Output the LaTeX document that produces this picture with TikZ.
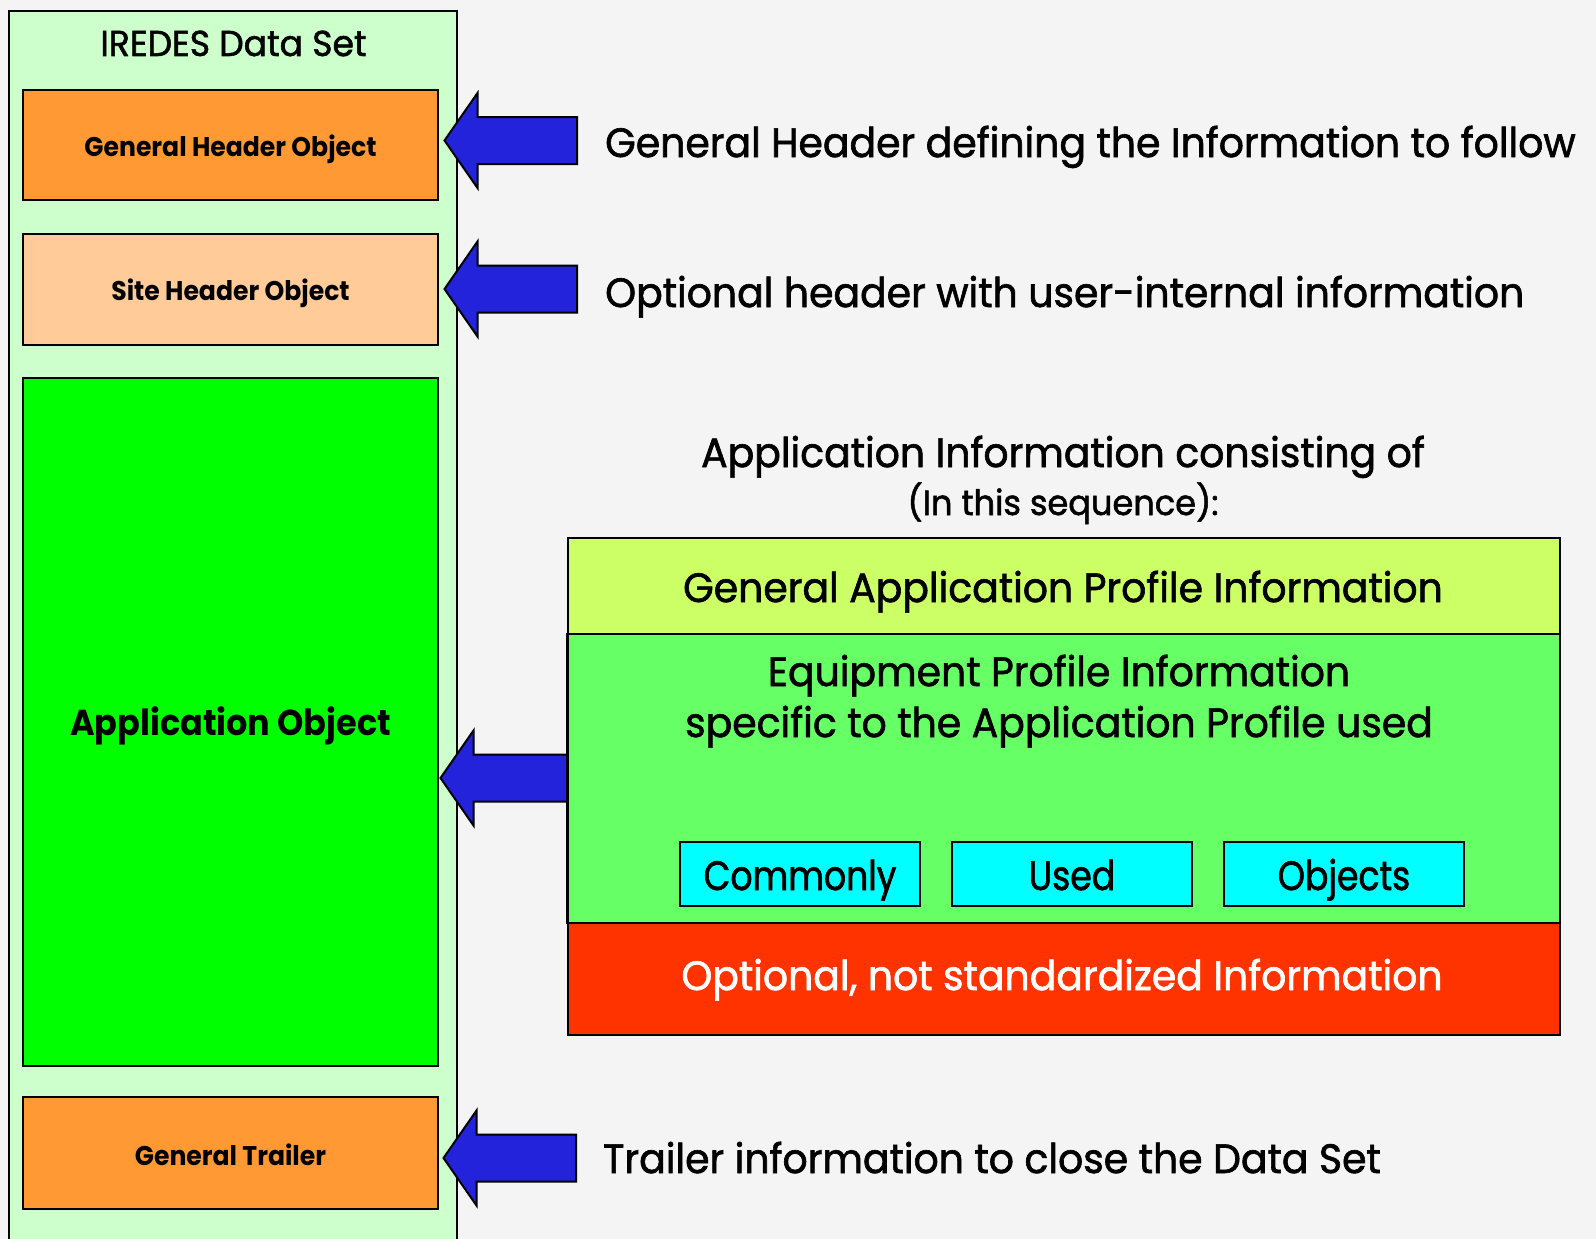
\documentclass[tikz,border=0pt]{standalone}
\usepackage{fontspec}
\setmainfont{Poppins}[FakeStretch=0.96,FakeBold=1.5]
\newfontfamily\boxfont{Poppins}[FakeStretch=0.93]
\newfontfamily\narrowfont{Poppins}[FakeStretch=0.845,FakeBold=1.5]
\usetikzlibrary{calc}

\definecolor{pagebg}{HTML}{F4F4F4}
\definecolor{setgreen}{HTML}{CCFFCC}
\definecolor{hdrorange}{HTML}{FF9933}
\definecolor{sitepeach}{HTML}{FFCC99}
\definecolor{appgreen}{HTML}{00FF00}
\definecolor{arrowblue}{HTML}{2323DB}
\definecolor{bandlime}{HTML}{CCFF66}
\definecolor{bandgreen}{HTML}{66FF66}
\definecolor{objcyan}{HTML}{00FFFF}
\definecolor{optred}{HTML}{FF3300}

% block arrow pointing left: #1 = tip, #2 = tail (x only)
\newcommand\blockarrow[2]{%
  \filldraw[blockarr] let \p1=(#1), \p2=(#2) in
    (\x1,\y1) -- (\x1+33pt,\y1+47.5pt) -- (\x1+33pt,\y1+23.5pt)
    -- (\x2,\y1+23.5pt) -- (\x2,\y1-23.5pt) -- (\x1+33pt,\y1-23.5pt)
    -- (\x1+33pt,\y1-47.5pt) -- cycle;}

\begin{document}
\begin{tikzpicture}[x=1pt,y=-1pt,
  frame/.style={draw=black,line width=2pt},
  objbox/.style={frame,rectangle,inner sep=0pt,minimum width=415pt},
  band/.style={frame,rectangle,inner sep=0pt,minimum width=992pt},
  cyanbox/.style={frame,rectangle,fill=objcyan,inner sep=0pt,minimum width=240pt,minimum height=64pt},
  blockarr/.style={draw=black,line width=2pt,fill=arrowblue,line join=miter},
  smalllbl/.style={inner sep=0pt,anchor=base,font=\fontsize{27}{32}\selectfont\boxfont\bfseries},
  biglbl/.style={inner sep=0pt,anchor=base,font=\fontsize{41}{48}\selectfont},
  objlbl/.style={inner sep=0pt,anchor=base,font=\fontsize{41}{48}\selectfont\narrowfont},
  sidelbl/.style={inner sep=0pt,anchor=base west,font=\fontsize{41}{48}\selectfont},
]
\useasboundingbox (0,0) rectangle (1596,1239);
\fill[pagebg] (0,0) rectangle (1596,1239);

% the data set container, open at the bottom
\begin{scope}
  \clip (0,0) rectangle (1596,1239);
  \node[frame,fill=setgreen,rectangle,inner sep=0pt,minimum width=448pt,minimum height=1250pt,anchor=north west] (dataset) at (8,10) {};
\end{scope}
\node[inner sep=0pt,anchor=base,font=\fontsize{36}{42}\selectfont] (dstitle) at (233.5,56) {IREDES Data Set};

% objects of the data set
\node[objbox,fill=hdrorange,minimum height=110pt] (gho) at (230.5,145) {};
\node[smalllbl] (ghotxt) at (230.5,156) {General Header Object};
\node[objbox,fill=sitepeach,minimum height=111pt] (sho) at (230.5,289.5) {};
\node[smalllbl] (shotxt) at (230.5,300) {Site Header Object};
\node[objbox,fill=appgreen,minimum height=688pt] (apo) at (230.5,722) {};
\node[inner sep=0pt,anchor=base,font=\fontsize{36}{42}\selectfont\boxfont\bfseries] (apotxt) at (230.5,735) {Application Object};
\node[objbox,fill=hdrorange,minimum height=112pt] (gtr) at (230.5,1153) {};
\node[smalllbl] (gtrtxt) at (230.5,1165) {General Trailer};

% descriptions on the right
\node[sidelbl] (d1) at (605,157) {General Header defining the Information to follow};
\node[sidelbl] (d2) at (605,307) {Optional header with user-internal information};
\node[biglbl] (d3) at (1063,467) {Application Information consisting of};
\node[inner sep=0pt,anchor=base,font=\fontsize{35}{40}\selectfont] (d4) at (1063,515) {(In this sequence):};
\node[sidelbl] (d5) at (603,1173) {Trailer information to close the Data Set};

% application information layers
\node[band,fill=bandlime,minimum height=96pt,anchor=north west] (gapi) at (567,537) {};
\node[band,fill=bandgreen,minimum height=289pt,anchor=north west] (epi) at (567,633) {};
\node[band,fill=optred,minimum height=112pt,anchor=north west] (opt) at (567,922) {};
\node[biglbl] (gapitxt) at (1063,602) {General Application Profile Information};
\node[biglbl] (epitxt1) at (1059,686) {Equipment Profile Information};
\node[biglbl] (epitxt2) at (1059,737) {specific to the Application Profile used};
\node[cyanbox] (obj1) at (800,874) {};
\node[cyanbox] (obj2) at (1072,874) {};
\node[cyanbox] (obj3) at (1344,874) {};
\node[objlbl] at (obj1 |- 0,890) {Commonly};
\node[objlbl] at (obj2 |- 0,890) {Used};
\node[objlbl] at (obj3 |- 0,890) {Objects};
\node[biglbl,text=white] (opttxt) at (1062,990) {Optional, not standardized Information};

% arrows into the data set
\coordinate (tip1) at ($(gho.east)+(5.5,-4.5)$);
\coordinate (tail1) at (577,140.5);
\coordinate (tip2) at ($(sho.east)+(5.5,-0.5)$);
\coordinate (tail2) at (577,289);
\coordinate (tip3) at ($(apo.east)+(1.5,56)$);
\coordinate (tip4) at ($(gtr.east)+(4.5,5)$);
\coordinate (tail4) at (576,1158);
\blockarrow{tip1}{tail1}
\blockarrow{tip2}{tail2}
\blockarrow{tip4}{tail4}
\blockarrow{tip3}{epi.west}
% redraw the layer edge over the arrow tail
\draw[frame] (epi.north west) -- (epi.south west);
\end{tikzpicture}
\end{document}
